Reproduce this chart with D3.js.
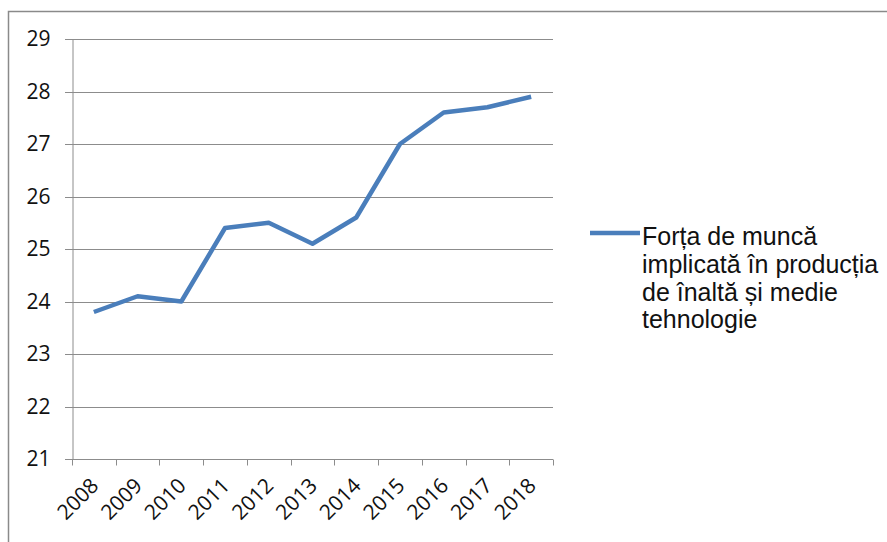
<!DOCTYPE html>
<html>
<head>
<meta charset="utf-8">
<script src="https://cdn.jsdelivr.net/npm/d3@7"></script>
<style>
  body { margin: 0; background: #fff; }
  svg { display: block; }
</style>
</head>
<body>
<div class="visHolder"></div>
<script>
const w = 887;
const h = 542;

// data
const years = ['2008','2009','2010','2011','2012','2013','2014','2015','2016','2017','2018'];
const values = [23.8, 24.1, 24.0, 25.4, 25.5, 25.1, 25.6, 27.0, 27.6, 27.7, 27.9];
const yTicks = [21, 22, 23, 24, 25, 26, 27, 28, 29];
const seriesName = ['Forța de muncă', 'implicată în producția', 'de înaltă și medie', 'tehnologie'];

const svg = d3.select('.visHolder').append('svg').attr('width', w).attr('height', h);

// outer frame (runs off the right and bottom edges)
svg.append('rect')
  .attr('x', 8.5).attr('y', 11.5)
  .attr('width', w + 20).attr('height', h + 20)
  .attr('fill', 'none').attr('stroke', '#8a8a8a').attr('stroke-width', 1.5);

const pLeft = 72, pRight = 553, pTop = 39, pBottom = 459;

const xScale = d3.scaleBand().domain(years).range([pLeft, pRight]);
const yScale = d3.scaleLinear().domain([21, 29]).range([pBottom, pTop]);

// gridlines
svg.append('g').selectAll('line').data(yTicks).enter().append('line')
  .attr('x1', pLeft - 7).attr('x2', pRight)
  .attr('y1', d => Math.round(yScale(d)) + 0.5)
  .attr('y2', d => Math.round(yScale(d)) + 0.5)
  .attr('stroke', '#8c8c8c').attr('stroke-width', 1);

// y axis
const yAxis = d3.axisLeft(yScale).tickValues(yTicks).tickSize(0).tickPadding(22);
const gy = svg.append('g').attr('transform', 'translate(' + (pLeft + 0.5) + ',0)').call(yAxis);
gy.select('.domain').attr('stroke', '#8c8c8c');
gy.selectAll('text')
  .attr('font-family', '"Open Sans", sans-serif').attr('font-size', 21).attr('fill', '#111');

// x axis
const xAxis = d3.axisBottom(xScale).tickSize(0).tickFormat('');
const gx = svg.append('g').attr('transform', 'translate(0,' + (pBottom + 0.5) + ')').call(xAxis);
gx.select('.domain').remove();
gx.append('line').attr('x1', pLeft).attr('x2', pRight).attr('stroke', '#8c8c8c');
// tick marks at band edges
const edges = years.map(d => xScale(d)).concat([pRight]);
gx.selectAll('.edge').data(edges).enter().append('line')
  .attr('class', 'edge')
  .attr('x1', d => Math.round(d) + 0.5).attr('x2', d => Math.round(d) + 0.5)
  .attr('y1', 0).attr('y2', 6)
  .attr('stroke', '#8c8c8c');

svg.append('g').selectAll('text').data(years).enter().append('text')
  .attr('transform', d => 'translate(' + (xScale(d) + xScale.bandwidth() / 2 + 6) + ',' + (pBottom + 28) + ') rotate(-45)')
  .attr('text-anchor', 'end')
  .attr('font-family', '"Open Sans", sans-serif').attr('font-size', 21).attr('fill', '#111')
  .text(d => d);

// line
const line = d3.line()
  .x((d, i) => xScale(years[i]) + xScale.bandwidth() / 2)
  .y(d => yScale(d));

svg.append('path').datum(values)
  .attr('d', line)
  .attr('fill', 'none')
  .attr('stroke', '#4a7ebb')
  .attr('stroke-width', 4.5)
  .attr('stroke-linejoin', 'round');

// legend
const lg = svg.append('g').attr('transform', 'translate(590,233)');
lg.append('line').attr('x1', 0).attr('x2', 50).attr('y1', 0).attr('y2', 0)
  .attr('stroke', '#4a7ebb').attr('stroke-width', 4.5).attr('stroke-linecap', 'butt');
lg.append('text')
  .attr('x', 52).attr('y', 12)
  .attr('font-family', '"Liberation Sans", Arial, sans-serif').attr('font-size', 25).attr('fill', '#111')
  .selectAll('tspan').data(seriesName).enter().append('tspan')
  .attr('x', 52).attr('dy', (d, i) => i === 0 ? 0 : 27.8)
  .text(d => d);
</script>
</body>
</html>
